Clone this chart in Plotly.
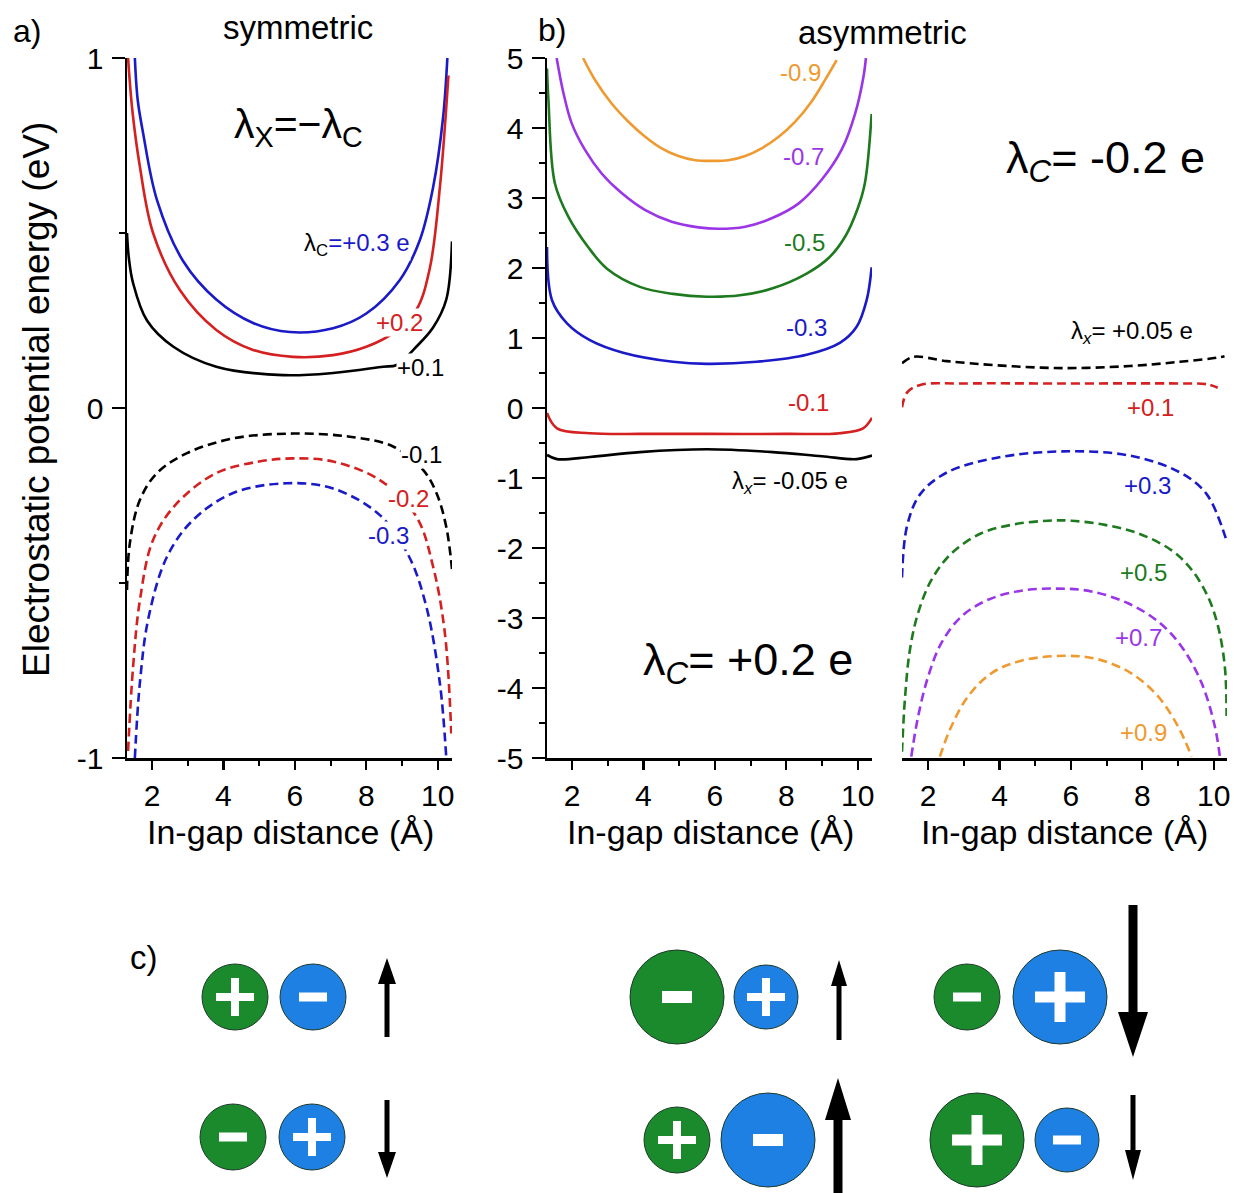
import plotly.graph_objects as go

W, H = 1234, 1193
OFF = 0  # body margin removed by post_script below
FONT = "Liberation Sans, Arial, sans-serif"

# ---------------- data: panel a (symmetric) ----------------
a_pos03_x = [1.52, 1.6, 1.75, 2.14, 2.87, 3.8, 4.83, 5.86, 7.07, 8.0, 8.94, 9.5, 9.87, 10.15, 10.27]
a_pos03_y = [1.0, 0.88, 0.786, 0.594, 0.42, 0.31, 0.243, 0.217, 0.228, 0.27, 0.366, 0.48, 0.63, 0.83, 1.0]
a_pos02_x = [1.33, 1.45, 1.66, 2.03, 2.78, 3.8, 4.83, 5.95, 7.07, 8.0, 8.75, 9.4, 9.78, 10.06, 10.3]
a_pos02_y = [1.0, 0.85, 0.69, 0.5, 0.337, 0.223, 0.166, 0.146, 0.151, 0.175, 0.214, 0.28, 0.40, 0.63, 0.95]
a_pos01_x = [1.3, 1.35, 1.47, 1.86, 2.6, 3.8, 5.67, 7.07, 8.47, 8.85, 9.4, 9.87, 10.24, 10.4]
a_pos01_y = [0.5, 0.43, 0.357, 0.25, 0.175, 0.118, 0.094, 0.10, 0.118, 0.123, 0.175, 0.23, 0.31, 0.476]
a_neg01_x = [1.3, 1.38, 1.66, 2.14, 2.98, 4.27, 5.95, 7.54, 8.75, 9.59, 9.97, 10.24, 10.4]
a_neg01_y = [-0.52, -0.386, -0.263, -0.186, -0.129, -0.087, -0.073, -0.082, -0.11, -0.177, -0.244, -0.34, -0.46]
a_neg02_x = [1.33, 1.47, 1.66, 2.03, 2.7, 3.8, 5.0, 5.95, 7.07, 8.38, 9.4, 9.87, 10.2, 10.38]
a_neg02_y = [-0.98, -0.74, -0.55, -0.377, -0.272, -0.186, -0.153, -0.144, -0.153, -0.206, -0.31, -0.453, -0.643, -0.93]
a_neg03_x = [1.52, 1.66, 1.9, 2.42, 3.15, 4.27, 5.77, 7.07, 8.38, 9.2, 9.68, 10.06, 10.24]
a_neg03_y = [-1.0, -0.786, -0.6, -0.425, -0.32, -0.243, -0.215, -0.23, -0.306, -0.425, -0.567, -0.786, -1.0]

# ---------------- data: panel b, lambda_C = +0.2 e ----------------
b_m09_x = [2.31, 2.64, 3.11, 3.58, 4.04, 4.51, 4.98, 5.45, 5.91, 6.38, 6.85, 7.31, 7.78, 8.25, 8.71, 9.09, 9.41]
b_m09_y = [5.0, 4.69, 4.35, 4.09, 3.88, 3.71, 3.60, 3.54, 3.53, 3.54, 3.60, 3.71, 3.87, 4.09, 4.38, 4.69, 4.97]
b_m07_x = [1.57, 1.76, 1.99, 2.36, 2.83, 3.39, 4.04, 4.79, 5.54, 6.10, 6.85, 7.59, 8.34, 8.99, 9.55, 9.93, 10.16, 10.23]
b_m07_y = [5.0, 4.50, 4.07, 3.69, 3.35, 3.07, 2.83, 2.66, 2.58, 2.56, 2.59, 2.71, 2.92, 3.26, 3.69, 4.21, 4.73, 5.0]
b_m05_x = [1.3, 1.34, 1.52, 1.9, 2.45, 2.98, 3.9, 4.83, 5.78, 6.7, 7.62, 8.57, 9.2, 9.65, 10.0, 10.2, 10.39]
b_m05_y = [4.85, 4.4, 3.21, 2.73, 2.3, 1.99, 1.73, 1.63, 1.59, 1.61, 1.71, 1.92, 2.15, 2.45, 2.85, 3.21, 4.2]
b_m03_x = [1.3, 1.44, 1.86, 2.5, 3.43, 4.83, 5.78, 7.17, 8.57, 9.5, 9.97, 10.25, 10.39]
b_m03_y = [2.3, 1.54, 1.21, 0.97, 0.79, 0.66, 0.63, 0.66, 0.76, 0.93, 1.16, 1.54, 2.01]
b_m01_x = [1.3, 1.58, 2.5, 4.0, 5.78, 8.0, 9.5, 10.15, 10.4]
b_m01_y = [-0.07, -0.29, -0.36, -0.37, -0.37, -0.37, -0.36, -0.29, -0.14]
b_lx_x = [1.3, 1.58, 2.5, 3.9, 5.78, 7.62, 9.0, 9.97, 10.4]
b_lx_y = [-0.67, -0.73, -0.70, -0.63, -0.59, -0.63, -0.69, -0.73, -0.68]

# ---------------- data: panel b right, lambda_C = -0.2 e ----------------
c_lx_x = [1.27, 1.58, 2.53, 3.93, 5.78, 7.65, 9.05, 10.11, 10.3]
c_lx_y = [0.64, 0.73, 0.67, 0.61, 0.57, 0.60, 0.66, 0.72, 0.74]
c_p01_x = [1.27, 1.41, 1.78, 2.98, 5.78, 9.05, 9.8, 10.11]
c_p01_y = [0.01, 0.22, 0.33, 0.35, 0.35, 0.35, 0.34, 0.29]
c_p03_x = [1.27, 1.41, 1.78, 2.53, 3.93, 5.78, 7.65, 9.05, 9.8, 10.36]
c_p03_y = [-2.42, -1.69, -1.23, -0.92, -0.71, -0.62, -0.68, -0.92, -1.23, -1.90]
c_p05_x = [1.27, 1.35, 1.49, 1.72, 2.09, 2.65, 3.49, 4.43, 5.36, 6.01, 6.95, 7.88, 8.81, 9.38, 9.84, 10.12, 10.31, 10.36]
c_p05_y = [-4.91, -4.17, -3.46, -2.93, -2.46, -2.08, -1.79, -1.66, -1.61, -1.61, -1.67, -1.79, -2.03, -2.31, -2.70, -3.12, -3.70, -4.4]
c_p07_x = [1.53, 1.72, 2.0, 2.37, 2.93, 3.68, 4.61, 5.64, 6.57, 7.6, 8.44, 9.1, 9.66, 10.03, 10.17]
c_p07_y = [-4.98, -4.41, -3.84, -3.36, -2.98, -2.74, -2.61, -2.58, -2.62, -2.79, -3.05, -3.41, -3.93, -4.55, -4.98]
c_p09_x = [2.33, 2.65, 3.12, 3.77, 4.61, 5.83, 6.76, 7.69, 8.44, 9.0, 9.38]
c_p09_y = [-4.98, -4.55, -4.12, -3.79, -3.61, -3.54, -3.59, -3.79, -4.12, -4.55, -4.98]

# tick labels
x_tickvals = [2, 4, 6, 8, 10]
x_ticktext = ["2", "4", "6", "8", "10"]
x_minor = [3, 5, 7, 9]
a_y_tickvals = [-1, 0, 1]
a_y_ticktext = ["-1", "0", "1"]
a_y_minor = [-0.5, 0.5]
b_y_tickvals = [-5, -4, -3, -2, -1, 0, 1, 2, 3, 4, 5]
b_y_ticktext = ["-5", "-4", "-3", "-2", "-1", "0", "1", "2", "3", "4", "5"]
b_y_minor = [-4.5, -3.5, -2.5, -1.5, -0.5, 0.5, 1.5, 2.5, 3.5, 4.5]

# colors
BLACK = "#000000"
RED = "#D42020"
BLUE = "#1A1AC8"
GREEN = "#1E7A1E"
PURPLE = "#9A35E8"
ORANGE = "#EE9A30"
CGREEN = "#1B8A2C"
CBLUE = "#1E80E2"

DASH = "9px,5px"
LW = 2.6

fig = go.Figure()

def add(x, y, color, dash, xa, ya):
    fig.add_trace(go.Scatter(x=x, y=y, mode="lines", xaxis=xa, yaxis=ya,
                             line=dict(color=color, width=LW, dash=dash,
                                       shape="spline", smoothing=1.0),
                             showlegend=False, hoverinfo="skip"))

add(a_pos03_x, a_pos03_y, BLUE, "solid", "x", "y")
add(a_pos02_x, a_pos02_y, RED, "solid", "x", "y")
add(a_pos01_x, a_pos01_y, BLACK, "solid", "x", "y")
add(a_neg01_x, a_neg01_y, BLACK, DASH, "x", "y")
add(a_neg02_x, a_neg02_y, RED, DASH, "x", "y")
add(a_neg03_x, a_neg03_y, BLUE, DASH, "x", "y")

add(b_m09_x, b_m09_y, ORANGE, "solid", "x2", "y2")
add(b_m07_x, b_m07_y, PURPLE, "solid", "x2", "y2")
add(b_m05_x, b_m05_y, GREEN, "solid", "x2", "y2")
add(b_m03_x, b_m03_y, BLUE, "solid", "x2", "y2")
add(b_m01_x, b_m01_y, RED, "solid", "x2", "y2")
add(b_lx_x, b_lx_y, BLACK, "solid", "x2", "y2")

add(c_lx_x, c_lx_y, BLACK, DASH, "x3", "y3")
add(c_p01_x, c_p01_y, RED, DASH, "x3", "y3")
add(c_p03_x, c_p03_y, BLUE, DASH, "x3", "y3")
add(c_p05_x, c_p05_y, GREEN, DASH, "x3", "y3")
add(c_p07_x, c_p07_y, PURPLE, DASH, "x3", "y3")
add(c_p09_x, c_p09_y, ORANGE, DASH, "x3", "y3")

def PX(px):
    return (px - OFF) / W

def PY(py):
    return 1 - (py - OFF) / H

ydom = [PY(758), PY(58)]
TICKFONT = dict(family=FONT, size=30, color="black")

def xaxis(dom, rng):
    return dict(domain=dom, range=rng, showline=True, linecolor="black", linewidth=2.5,
                ticks="outside", ticklen=9, tickwidth=2.2, tickcolor="black",
                tickmode="array", tickvals=x_tickvals, ticktext=x_ticktext,
                minor=dict(tickmode="array", tickvals=x_minor, ticks="outside", ticklen=5,
                           tickwidth=2, tickcolor="black"),
                showgrid=False, zeroline=False, tickfont=TICKFONT, fixedrange=True,
                automargin=False)

def yaxis(rng, tv, tt, mv, anchor, show=True):
    d = dict(domain=ydom, range=rng, anchor=anchor, showgrid=False, zeroline=False,
             fixedrange=True, automargin=False)
    if show:
        d.update(showline=True, linecolor="black", linewidth=2.5, ticks="outside",
                 ticklen=13, tickwidth=2.2, tickcolor="black", tickmode="array",
                 tickvals=tv, ticktext=tt,
                 minor=dict(tickmode="array", tickvals=mv, ticks="outside", ticklen=6,
                            tickwidth=2, tickcolor="black"),
                 tickfont=TICKFONT, ticklabelstandoff=2)
    else:
        d.update(showline=False, showticklabels=False, ticks="")
    return d

fig.update_layout(
    width=W, height=H, autosize=False,
    margin=dict(l=0, r=0, t=0, b=0, pad=0, autoexpand=False),
    paper_bgcolor="white", plot_bgcolor="white",
    showlegend=False,
    xaxis=dict(xaxis([PX(127), PX(452)], [1.3, 10.4]), anchor="y"),
    yaxis=yaxis([-1, 1], a_y_tickvals, a_y_ticktext, a_y_minor, "x"),
    xaxis2=dict(xaxis([PX(547), PX(872)], [1.3, 10.4]), anchor="y2"),
    yaxis2=yaxis([-5, 5], b_y_tickvals, b_y_ticktext, b_y_minor, "x2"),
    xaxis3=dict(xaxis([PX(902), PX(1227)], [1.27, 10.37]), anchor="y3"),
    yaxis3=yaxis([-5, 5], None, None, None, "x3", show=False),
)

ann = []

def text(px, py, s, size, color="black", bg=None, angle=0, xanchor="center"):
    d = dict(x=PX(px), y=PY(py), xref="paper", yref="paper", text=s, showarrow=False,
             xanchor=xanchor, yanchor="middle",
             font=dict(family=FONT, size=size, color=color), textangle=angle)
    if bg:
        d.update(bgcolor=bg, borderpad=0)
    ann.append(d)

# panel letters / headings
text(27, 31, "a)", 32)
text(298, 27, "symmetric", 33)
text(552, 30, "b)", 32)
text(882, 32, "asymmetric", 33)
text(144, 957, "c)", 33)

# axis titles
for cx in (290, 710, 1064):
    text(cx, 832, "In-gap distance (Å)", 34)
text(36, 400, "Electrostatic potential energy (eV)", 37, angle=-90)

# big formulas
text(298, 127, "λ<sub>X</sub>=−λ<sub>C</sub>", 41)
text(748, 662, "λ<sub><i>C</i></sub>= +0.2 e", 45)
text(1105, 160, "λ<sub><i>C</i></sub>= -0.2 e", 45)

# panel a curve labels
text(357, 245, "<span style='color:black'>λ<sub>C</sub></span>=+0.3 e", 24, BLUE, bg="white")
text(399, 322, "+0.2", 24, RED, bg="white")
text(420, 367, "+0.1", 24, BLACK, bg="white")
text(421, 454, "-0.1", 24, BLACK, bg="white")
text(408, 498, "-0.2", 24, RED, bg="white")
text(388, 535, "-0.3", 24, BLUE, bg="white")

# panel b labels
text(800, 72, "-0.9", 24, ORANGE)
text(803, 157, "-0.7", 24, PURPLE)
text(805, 242, "-0.5", 24, GREEN)
text(806, 328, "-0.3", 24, BLUE)
text(808, 402, "-0.1", 24, RED)
text(790, 482, "λ<sub><i>x</i></sub>= -0.05 e", 24, BLACK)

# right panel labels
text(1132, 332, "λ<sub><i>x</i></sub>= +0.05 e", 24, BLACK)
text(1150, 408, "+0.1", 24, RED)
text(1147, 485, "+0.3", 24, BLUE)
text(1143, 572, "+0.5", 24, GREEN)
text(1138, 637, "+0.7", 24, PURPLE)
text(1143, 732, "+0.9", 24, ORANGE)

fig.update_layout(annotations=ann)

# ---------------- panel c schematic ----------------
shapes = []

def rect(x0, y0, x1, y1, color):
    shapes.append(dict(type="rect", xref="paper", yref="paper",
                       x0=PX(x0), x1=PX(x1), y0=PY(y1), y1=PY(y0),
                       fillcolor=color, line=dict(width=0)))

def ion(cx, cy, r, color, sign):
    shapes.append(dict(type="circle", xref="paper", yref="paper",
                       x0=PX(cx - r), x1=PX(cx + r), y0=PY(cy + r), y1=PY(cy - r),
                       fillcolor=color, line=dict(color="#1d3a2a", width=1)))
    big = r > 40
    t = 11 if big else 8
    if sign == "+":
        L = 50 if big else 38
        rect(cx - L / 2, cy - t / 2, cx + L / 2, cy + t / 2, "white")
        rect(cx - t / 2, cy - L / 2, cx + t / 2, cy + L / 2, "white")
    else:
        L = 30 if big else 28
        tt = 12 if big else 9
        rect(cx - L / 2, cy - tt / 2, cx + L / 2, cy + tt / 2, "white")

def arrow(x, tail, tip, sw, hw, hl):
    d = 1 if tip > tail else -1
    base = tip - d * hl
    path = (f"M {PX(x - sw/2)},{PY(tail)} L {PX(x + sw/2)},{PY(tail)} "
            f"L {PX(x + sw/2)},{PY(base)} L {PX(x + hw/2)},{PY(base)} "
            f"L {PX(x)},{PY(tip)} L {PX(x - hw/2)},{PY(base)} "
            f"L {PX(x - sw/2)},{PY(base)} Z")
    shapes.append(dict(type="path", xref="paper", yref="paper", path=path,
                       fillcolor="black", line=dict(width=0)))

ions = [
    (235, 997, 33, CGREEN, "+"), (313, 997, 33, CBLUE, "-"),
    (233, 1137, 33, CGREEN, "-"), (312, 1137, 33, CBLUE, "+"),
    (677, 997, 47, CGREEN, "-"), (766, 997, 32, CBLUE, "+"),
    (967, 997, 33, CGREEN, "-"), (1060, 997, 47, CBLUE, "+"),
    (677, 1140, 33, CGREEN, "+"), (768, 1140, 47, CBLUE, "-"),
    (977, 1140, 47, CGREEN, "+"), (1067, 1140, 32, CBLUE, "-"),
]
for c in ions:
    ion(*c)

arrows = [
    (387, 1037, 958, 5, 18, 26),
    (387, 1100, 1178, 5, 18, 26),
    (839, 1040, 960, 5, 16, 26),
    (1133, 905, 1057, 9, 30, 45),
    (838, 1193, 1078, 9, 26, 42),
    (1133, 1095, 1180, 5, 16, 30),
]
for a in arrows:
    arrow(*a)

fig.update_layout(shapes=shapes)

fig.write_html("out.html",
               config={"displayModeBar": False, "staticPlot": True},
               post_script="document.body.style.margin='0';"
                           "document.body.style.overflow='hidden';")
